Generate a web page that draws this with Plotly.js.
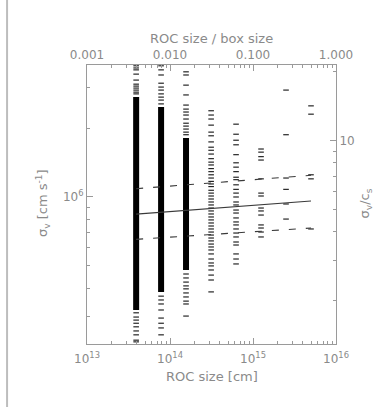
<!DOCTYPE html>
<html>
<head>
<meta charset="utf-8">
<script src="https://cdn.plot.ly/plotly-3.0.1.min.js"></script>
<style>
  html, body { margin: 0; padding: 0; background: #fff; }
  #chart { width: 378px; height: 410px; }
</style>
</head>
<body>
<div id="chart"></div>
<script>
// Velocity dispersion of regions of coherence (ROC) versus their size.
// Box size and sound speed used for the secondary (top / right) axes.
const boxSize = 1e16;      // cm
const soundSpeed = 1.76e5; // cm/s

// ROC sizes: box/256 ... box/2 (cm)
const rocSize = [3.91e13, 7.81e13, 1.56e14, 3.13e14, 6.25e14, 1.25e15, 2.5e15, 5e15];

// Densely populated span of each column (cm/s); null where points are resolved individually
const coreLow  = [3.21e5, 3.85e5, 4.80e5, null, null, null, null, null];
const coreHigh = [2.73e6, 2.47e6, 1.81e6, null, null, null, null, null];

// Individually resolved sigma_v values per ROC size (cm/s)
const sigma1 = [3.74e6, 3.66e6, 3.59e6, 3.44e6, 3.24e6, 3.11e6, 3.05e6, 2.99e6, 2.93e6, 2.87e6, 2.82e6,
                3.12e5, 2.99e5, 2.90e5, 2.81e5, 2.71e5, 2.60e5, 2.50e5, 2.37e5, 2.33e5];
const sigma2 = [3.74e6, 3.59e6, 3.41e6, 3.14e6, 3.02e6, 2.93e6, 2.82e6, 2.73e6, 2.65e6, 2.55e6,
                3.69e5, 3.55e5, 3.41e5, 3.21e5, 2.96e5, 2.81e5, 2.68e5, 2.50e5];
const sigma3 = [3.52e6, 3.41e6, 3.08e6, 2.79e6, 2.52e6, 2.42e6, 2.35e6, 2.28e6, 2.19e6, 2.10e6, 2.04e6,
                1.98e6, 1.92e6, 1.87e6, 4.61e5, 4.43e5, 4.25e5, 4.09e5, 3.97e5, 3.81e5, 3.66e5, 3.51e5,
                3.41e5, 3.02e5];
const sigma4 = [2.38e6, 2.28e6, 2.19e6, 2.06e6, 1.92e6, 1.85e6, 1.74e6, 1.65e6, 1.60e6, 1.54e6, 1.47e6,
                1.42e6, 1.38e6, 1.33e6, 1.29e6, 1.25e6, 1.21e6, 1.17e6, 1.14e6, 1.11e6, 1.07e6, 1.04e6,
                1.01e6, 9.80e5, 9.51e5, 9.23e5, 8.95e5, 8.69e5, 8.43e5, 8.18e5, 7.94e5, 7.70e5, 7.47e5,
                7.25e5, 7.03e5, 6.82e5, 6.62e5, 6.43e5, 6.23e5, 6.05e5, 5.87e5, 5.64e5, 5.36e5, 5.15e5,
                5.00e5, 4.80e5, 4.56e5, 4.34e5, 3.85e5];
const sigma5 = [2.08e6, 1.88e6, 1.77e6, 1.69e6, 1.53e6, 1.41e6, 1.35e6, 1.29e6, 1.22e6, 1.19e6, 1.13e6,
                1.08e6, 1.04e6, 1.00e6, 9.51e5, 9.23e5, 8.77e5, 8.51e5, 8.10e5, 7.78e5, 7.55e5, 7.25e5,
                6.96e5, 6.69e5, 6.36e5, 6.17e5, 5.64e5, 5.36e5, 5.10e5];
const sigma6 = [1.62e6, 1.57e6, 1.50e6, 1.45e6, 1.20e6, 1.04e6, 1.01e6, 8.95e5, 8.69e5, 8.34e5, 7.55e5,
                7.32e5, 7.03e5, 6.69e5];
const sigma7 = [2.93e6, 1.87e6, 1.21e6, 1.08e6, 9.32e5, 8.01e5];
const sigma8 = [2.50e6, 2.30e6, 1.25e6, 1.20e6, 7.25e5];

// Power-law fit of the mean and its +/- 1 sigma band
const fitSize  = [3.91e13, 5e15];
const fitMean  = [8.42e5, 9.61e5];
const fitUpper = [1.087e6, 1.244e6];
const fitLower = [6.53e5, 7.32e5];

// Axis tick labels
const xTickExp = [13, 14, 15, 16];
const topTickVals = [0.001, 0.01, 0.1, 1];
const topTickText = ['0.001', '0.010', '0.100', '1.000'];

const sigmaCols = [sigma1, sigma2, sigma3, sigma4, sigma5, sigma6, sigma7, sigma8];

const axisGray = '#9a9a9a';
const textGray = '#8a8a8a';

// minor tick positions on a log axis: m * 10^d, m = 2..9
function logMinors(dFrom, dTo, lo, hi) {
  const out = [];
  for (let d = dFrom; d <= dTo; d++) {
    for (let m = 2; m <= 9; m++) {
      const v = m * Math.pow(10, d);
      if (v > lo && v < hi) out.push(v);
    }
  }
  return out;
}

const yRange = [5.358, 6.5764];
const cs = Math.log10(soundSpeed);

const traces = [];

// dense column cores
const coreX = [], coreY = [];
rocSize.forEach((s, i) => {
  if (coreLow[i] !== null) {
    coreX.push(s, s, null);
    coreY.push(coreLow[i], coreHigh[i], null);
  }
});
traces.push({
  x: coreX, y: coreY, mode: 'lines', type: 'scatter',
  line: { color: '#000', width: 6 }, hoverinfo: 'skip', showlegend: false
});

// individual ROCs drawn as short horizontal dashes
sigmaCols.forEach((vals, i) => {
  traces.push({
    x: vals.map(() => rocSize[i]), y: vals, mode: 'markers', type: 'scatter',
    marker: { symbol: 'line-ew', size: 4, color: '#111', line: { color: '#111', width: 1.1 } },
    showlegend: false
  });
});

// fit lines
traces.push({
  x: fitSize, y: fitMean, mode: 'lines', type: 'scatter',
  line: { color: '#3a3a3a', width: 1.1 }, showlegend: false
});
[fitUpper, fitLower].forEach(v => traces.push({
  x: fitSize, y: v, mode: 'lines', type: 'scatter',
  line: { color: '#3a3a3a', width: 1.1, dash: '7px,10px' }, showlegend: false
}));

// secondary axes in units of box size and sound speed
traces.push({
  x: fitSize.map(s => s / boxSize), y: fitMean.map(v => v / soundSpeed),
  xaxis: 'x2', yaxis: 'y2', mode: 'lines', type: 'scatter',
  line: { color: 'rgba(0,0,0,0)', width: 0 }, hoverinfo: 'skip', showlegend: false
});

const common = {
  showgrid: false, zeroline: false, showline: true, linecolor: axisGray, linewidth: 1,
  ticks: 'inside', ticklen: 6, tickcolor: axisGray, tickwidth: 1, type: 'log',
  automargin: false, tickfont: { size: 12, color: textGray }
};

const titleFont = { size: 13, color: textGray };

const layout = {
  width: 378, height: 410,
  margin: { l: 87, r: 42, t: 65, b: 66 },
  paper_bgcolor: '#fff', plot_bgcolor: '#fff',
  font: { family: 'DejaVu Sans, sans-serif', size: 12, color: textGray },
  showlegend: false,
  xaxis: Object.assign({}, common, {
    range: [13, 16], ticklabelstandoff: 4,
    tickmode: 'array', tickvals: xTickExp.map(e => Math.pow(10, e)),
    ticktext: xTickExp.map(e => '10<sup>' + e + '</sup>'),
    minor: { ticks: 'inside', ticklen: 3, tickcolor: axisGray, tickvals: logMinors(13, 15, 1e13, 1e16) }
  }),
  xaxis2: Object.assign({}, common, {
    overlaying: 'x', side: 'top', anchor: 'y',
    range: [-3, 0],
    tickmode: 'array', tickvals: topTickVals, ticktext: topTickText,
    minor: { ticks: 'inside', ticklen: 3, tickcolor: axisGray, tickvals: logMinors(-3, -1, 1e-3, 1) }
  }),
  yaxis: Object.assign({}, common, {
    range: yRange,
    tickmode: 'array', tickvals: [1e6], ticktext: ['10<sup>6</sup>'],
    minor: { ticks: 'inside', ticklen: 3, tickcolor: axisGray, tickvals: logMinors(5, 6, 2.2e5, 3.8e6) }
  }),
  yaxis2: Object.assign({}, common, {
    overlaying: 'y', side: 'right', anchor: 'x',
    range: [yRange[0] - cs, yRange[1] - cs],
    tickmode: 'array', tickvals: [10], ticktext: ['10'],
    minor: { ticks: 'inside', ticklen: 3, tickcolor: axisGray, tickvals: logMinors(0, 1, 1.2, 21.5) }
  }),
  annotations: [
    { text: 'ROC size [cm]', xref: 'paper', yref: 'paper', x: 0.502, y: -0.118,
      xanchor: 'center', yanchor: 'middle', showarrow: false, font: titleFont },
    { text: 'ROC size / box size', xref: 'paper', yref: 'paper', x: 0.502, y: 1.094,
      xanchor: 'center', yanchor: 'middle', showarrow: false, font: titleFont },
    { text: 'σ<sub>v</sub> [cm s<sup>-1</sup>]', xref: 'paper', yref: 'paper', x: -0.177, y: 0.505,
      xanchor: 'center', yanchor: 'middle', textangle: -90, showarrow: false, font: titleFont },
    { text: 'σ<sub>v</sub>/c<sub>s</sub>', xref: 'paper', yref: 'paper', x: 1.118, y: 0.505,
      xanchor: 'center', yanchor: 'middle', textangle: -90, showarrow: false, font: titleFont }
  ],
  shapes: [{
    type: 'line', xref: 'paper', yref: 'paper',
    x0: -0.321, x1: -0.321, y0: -0.226, y1: 1.233,
    line: { color: '#bdbdbd', width: 2 }
  }]
};

Plotly.newPlot('chart', traces, layout, { displayModeBar: false, staticPlot: true });
</script>
</body>
</html>
